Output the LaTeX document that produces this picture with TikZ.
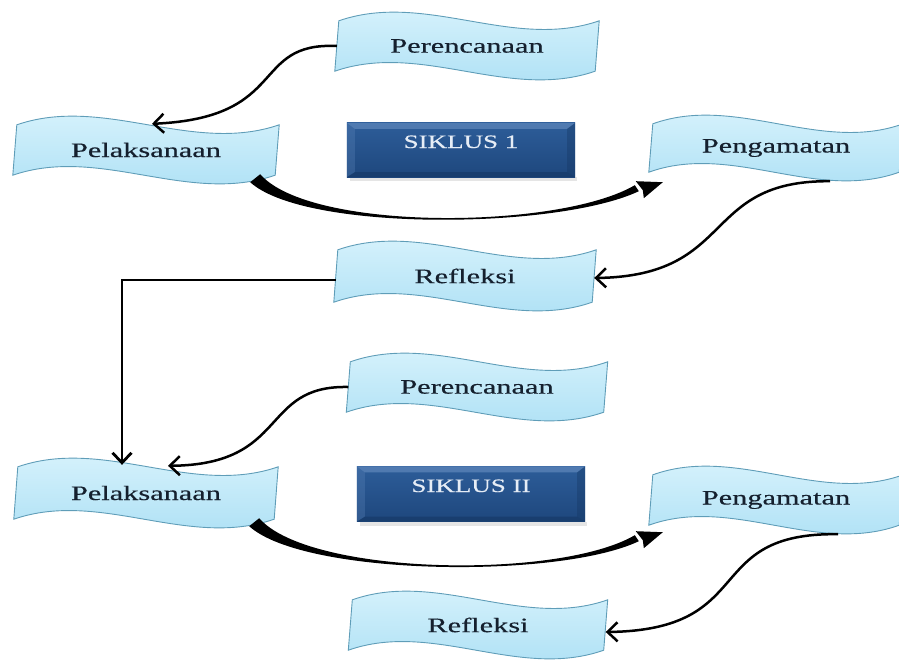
\documentclass[tikz,border=0pt]{standalone}
\usepackage{fontspec}
\setmainfont{Liberation Serif}
\newfontfamily\labelfont{Liberation Serif}[FakeBold=0.35]
\usetikzlibrary{calc,backgrounds,arrows.meta}

\definecolor{wavetop}{HTML}{DDF5FD}
\definecolor{wavebot}{HTML}{A8DEF4}
\definecolor{waveline}{HTML}{5F9DB8}
\definecolor{wavetext}{HTML}{15202E}
\definecolor{boxtop}{HTML}{2D5D99}
\definecolor{boxbot}{HTML}{1E477D}
\definecolor{boxlight}{HTML}{6088BC}
\definecolor{boxdark}{HTML}{143560}
\definecolor{boxtext}{HTML}{E6EDF6}

\tikzset{
  wavebox/.style={inner sep=0pt, text=wavetext, font=\labelfont\fontsize{20.5}{23}\selectfont},
  wavefill/.style={draw=waveline, line width=0.9pt, top color=wavetop, bottom color=wavebot},
  cyclebox/.style={inner sep=0pt, text=boxtext, font=\labelfont\fontsize{19}{21}\selectfont},
  flow/.style={draw=black, line width=2.5pt, -{Straight Barb[length=10pt,width=19pt]}},
  bigflow/.style={fill=black},
}

% wave-shaped banner: name, x, y, width, height, text
\newcommand\wavenode[6]{%
  \node[wavebox, minimum width=#4pt, minimum height=#5pt] (#1) at (#2,#3) {\scalebox{1.48}[1]{#6}};
  \begin{scope}[on background layer]
    \path[wavefill]
      ($(#1.north west)+(2,0)$) .. controls +(#4/3,-30) and +(-#4/3,30) .. ($(#1.north east)+(2,0)$)
      -- ($(#1.south east)+(-2,0)$) .. controls +(-#4/3,30) and +(#4/3,-30) .. ($(#1.south west)+(-2,0)$)
      -- cycle;
  \end{scope}}

% bevelled cycle label: name, x, y, width, height, text
\newcommand\cyclenode[6]{%
  \node[cyclebox, minimum width=#4pt, minimum height=#5pt] (#1) at (#2,#3) {\raisebox{2pt}[0pt][0pt]{\scalebox{1.42}[1]{#6}}};
  \begin{scope}[on background layer]
    \fill[black!10] ($(#1.south west)+(3,0)$) rectangle ($(#1.south east)+(2,4)$);
    \shade[top color=boxtop, bottom color=boxbot] (#1.north west) rectangle (#1.south east);
    \fill[boxlight, opacity=.7] (#1.north west) -- (#1.north east) -- ($(#1.north east)+(-8,6)$) -- ($(#1.north west)+(8,6)$) -- cycle;
    \fill[boxlight, opacity=.3] (#1.north west) -- ($(#1.north west)+(8,6)$) -- ($(#1.south west)+(8,-5)$) -- (#1.south west) -- cycle;
    \fill[boxdark, opacity=.35] (#1.north east) -- ($(#1.north east)+(-8,6)$) -- ($(#1.south east)+(-8,-5)$) -- (#1.south east) -- cycle;
    \fill[boxdark, opacity=.5] (#1.south west) -- (#1.south east) -- ($(#1.south east)+(-8,-5)$) -- ($(#1.south west)+(8,-5)$) -- cycle;
  \end{scope}}

% tapered heavy arrow between two named points: start, tip
\newcommand\bigarrow[2]{%
  \fill[bigflow]
    ($(#1)+(-4,4)$) .. controls ($(#1)+(51,54)$) and ($(#2)+(-104,47)$) .. ($(#2)+(-24,9)$)
    -- ($(#2)+(-28,3)$) .. controls ($(#2)+(-104,47.5)$) and ($(#1)+(56,53.5)$) .. ($(#1)+(6,-4)$)
    -- cycle;
  \fill[bigflow] (#2) -- ($(#2)+(-19,16)$) -- ($(#2)+(-20,8)$) -- ($(#2)+(-27,-1)$) -- cycle;}

\begin{document}
\begin{tikzpicture}[x=1pt, y=-1pt]
  \useasboundingbox (0,0) rectangle (899,662);

  % first cycle
  \wavenode{per1}{467}{46}{260}{50}{Perencanaan}
  \wavenode{pel1}{146}{150}{262}{50}{Pelaksanaan}
  \wavenode{pen1}{776}{148}{250}{48}{Pengamatan}
  \wavenode{ref1}{465}{276}{258}{52}{Refleksi}
  \cyclenode{sik1}{461}{150}{228}{54}{SIKLUS 1}

  % second cycle
  \wavenode{per2}{477}{387}{257}{50}{Perencanaan}
  \wavenode{pel2}{146}{493}{260}{52}{Pelaksanaan}
  \wavenode{pen2}{776}{500}{250}{50}{Pengamatan}
  \wavenode{ref2}{478}{625}{255}{50}{Refleksi}
  \cyclenode{sik2}{471}{494}{228}{55}{SIKLUS II}

  % heavy arrows from Pelaksanaan to Pengamatan
  \coordinate (b1s) at ($(pel1.south east)+(-23,3)$);
  \coordinate (b1e) at ($(pen1.south west)+(12,10)$);
  \coordinate (b2s) at ($(pel2.south east)+(-23,3)$);
  \coordinate (b2e) at ($(pen2.south west)+(12,7)$);
  \bigarrow{b1s}{b1e}
  \bigarrow{b2s}{b2e}

  % thin connectors
  \draw[flow] (per1.west) .. controls +(-87,-4) and +(138,-6) .. ($(pel1.north)+(6,-1)$);
  \draw[flow] ($(pen1.south)+(54,9)$) .. controls +(-130,-1) and +(143,-2) .. ($(ref1.east)+(0,2)$);
  \draw[flow, line width=2.8pt] ($(ref1.west)+(0,4)$) -| ($(pel2.north)+(-24,-2)$);
  \draw[flow] (per2.west) .. controls +(-89,-2) and +(122,-1) .. ($(pel2.north)+(22,-1)$);
  \draw[flow] ($(pen2.south)+(62,9)$) .. controls +(-138,-2) and +(154,-2) .. ($(ref2.east)+(0,7)$);
\end{tikzpicture}
\end{document}
